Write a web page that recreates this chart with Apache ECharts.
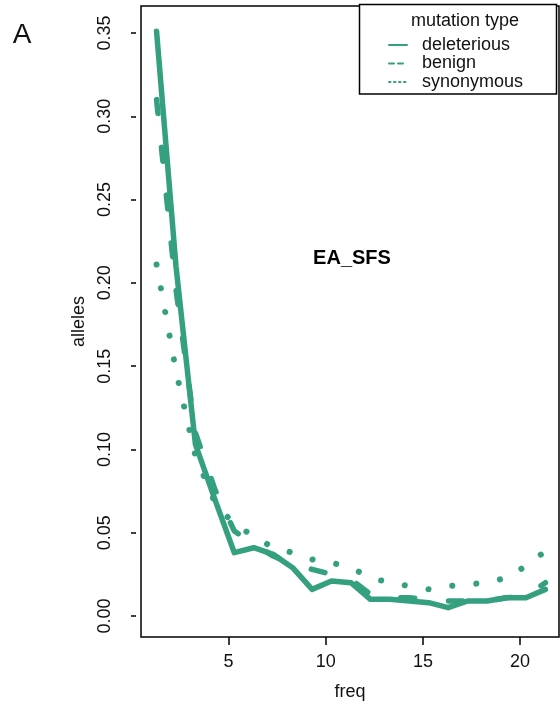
<!DOCTYPE html>
<html>
<head>
<meta charset="utf-8">
<script src="https://cdn.jsdelivr.net/npm/echarts@6/dist/echarts.min.js"></script>
<style>
  html, body { margin: 0; padding: 0; background: #fff; }
  #container { width: 560px; height: 710px; }
</style>
</head>
<body>
<div id="container"></div>
<script>
// site frequency spectrum, EA sample
var freq = [1.3, 2.3, 3.3, 4.3, 5.3, 6.3, 7.3, 8.3, 9.3, 10.3, 11.3, 12.3, 13.3, 14.3, 15.3, 16.3, 17.3, 18.3, 19.3, 20.3, 21.3];
var deleterious = [0.351, 0.210, 0.103, 0.070, 0.038, 0.041, 0.037, 0.029, 0.016, 0.021, 0.020, 0.010, 0.010, 0.009, 0.008, 0.005, 0.009, 0.009, 0.011, 0.011, 0.016];
var benign = [0.310, 0.196, 0.110, 0.076, 0.051, 0.043, 0.036, 0.031, 0.028, 0.025, 0.022, 0.013, 0.011, 0.011, 0.010, 0.009, 0.009, 0.009, 0.011, 0.012, 0.020];
var synonymous = [0.211, 0.147, 0.096, 0.068, 0.055, 0.048, 0.041, 0.038, 0.034, 0.032, 0.029, 0.023, 0.020, 0.018, 0.016, 0.018, 0.019, 0.020, 0.023, 0.030, 0.039];
var x_ticks = [5, 10, 15, 20];
var y_ticks = [0, 0.05, 0.10, 0.15, 0.20, 0.25, 0.30, 0.35];

var col = '#34a07f';
var fnt = 'Liberation Sans, Arial, sans-serif';

function pairs(ys) {
    var out = [];
    for (var i = 0; i < freq.length; i++) {
        out.push([freq[i], ys[i]]);
    }
    return out;
}

var myChart = echarts.init(document.getElementById('container'));
var option = {
    animation: false,
    backgroundColor: '#fff',
    grid: {
        left: 141, top: 6, right: 1, bottom: 73,
        show: true, borderColor: '#000', borderWidth: 1.5, backgroundColor: 'transparent'
    },
    xAxis: {
        type: 'value',
        min: 0.5, max: 22.0,
        name: 'freq',
        nameLocation: 'middle',
        nameGap: 46,
        nameTextStyle: {fontFamily: fnt, fontSize: 18, color: '#111'},
        axisLine: {show: false, onZero: false},
        axisTick: {show: true, length: 8, lineStyle: {color: '#000', width: 1.5}, customValues: x_ticks},
        axisLabel: {fontFamily: fnt, fontSize: 18, color: '#111', margin: 16, customValues: x_ticks},
        splitLine: {show: false}
    },
    yAxis: {
        type: 'value',
        min: -0.0126, max: 0.3662,
        offset: 5,
        name: 'alleles',
        nameLocation: 'middle',
        nameGap: 31,
        nameTextStyle: {fontFamily: fnt, fontSize: 18, color: '#111'},
        axisLine: {show: false, onZero: false},
        axisTick: {show: true, length: 5, lineStyle: {color: '#000', width: 1.5}, customValues: y_ticks},
        axisLabel: {
            fontFamily: fnt, fontSize: 18, color: '#111', margin: 22, rotate: 90,
            customValues: y_ticks,
            formatter: function (v) { return v.toFixed(2); }
        },
        splitLine: {show: false}
    },
    legend: {
        orient: 'vertical',
        left: 388, top: 36,
        z: 20,
        padding: 0,
        itemWidth: 18, itemHeight: 14, itemGap: 0.5,
        itemStyle: {opacity: 0},
        textStyle: {fontFamily: fnt, fontSize: 18, lineHeight: 16, color: '#111', padding: [0, 0, 0, 10]},
        data: [
            {name: 'deleterious', itemStyle: {opacity: 0}, lineStyle: {width: 2, type: 'solid'}},
            {name: 'benign', itemStyle: {opacity: 0}, lineStyle: {width: 2, type: [5, 4]}},
            {name: 'synonymous', itemStyle: {opacity: 0}, lineStyle: {width: 2, type: [1.5, 3.5]}}
        ]
    },
    graphic: [
        {
            type: 'rect', z: 10,
            shape: {x: 359.5, y: 4.5, width: 197, height: 89.5},
            style: {fill: '#fff', stroke: '#000', lineWidth: 1.5}
        },
        {
            type: 'text', z: 11,
            style: {text: 'mutation type', x: 465, y: 21, font: '18px ' + fnt, fill: '#111',
                align: 'center', verticalAlign: 'middle', textAlign: 'center', textVerticalAlign: 'middle'}
        },
        {
            type: 'text', z: 11,
            style: {text: 'EA_SFS', x: 352, y: 258, font: 'bold 20px ' + fnt, fill: '#000',
                align: 'center', verticalAlign: 'middle', textAlign: 'center', textVerticalAlign: 'middle'}
        },
        {
            type: 'text', z: 11,
            style: {text: 'A', x: 22, y: 35, font: '28px ' + fnt, fill: '#111',
                align: 'center', verticalAlign: 'middle', textAlign: 'center', textVerticalAlign: 'middle'}
        }
    ],
    series: [
        {
            name: 'deleterious', type: 'line', data: pairs(deleterious),
            symbol: 'none', color: col, z: 3,
            lineStyle: {color: col, width: 5.5, type: 'solid', cap: 'round', join: 'round'}
        },
        {
            name: 'benign', type: 'line', data: pairs(benign),
            symbol: 'none', color: col, z: 3,
            lineStyle: {color: col, width: 5.5, type: [14, 34], cap: 'round', join: 'round'}
        },
        {
            name: 'synonymous', type: 'line', data: pairs(synonymous),
            symbol: 'none', color: col, z: 3,
            lineStyle: {color: col, width: 6, type: [0.1, 24], cap: 'round', join: 'round'}
        }
    ]
};
myChart.setOption(option);
</script>
</body>
</html>
